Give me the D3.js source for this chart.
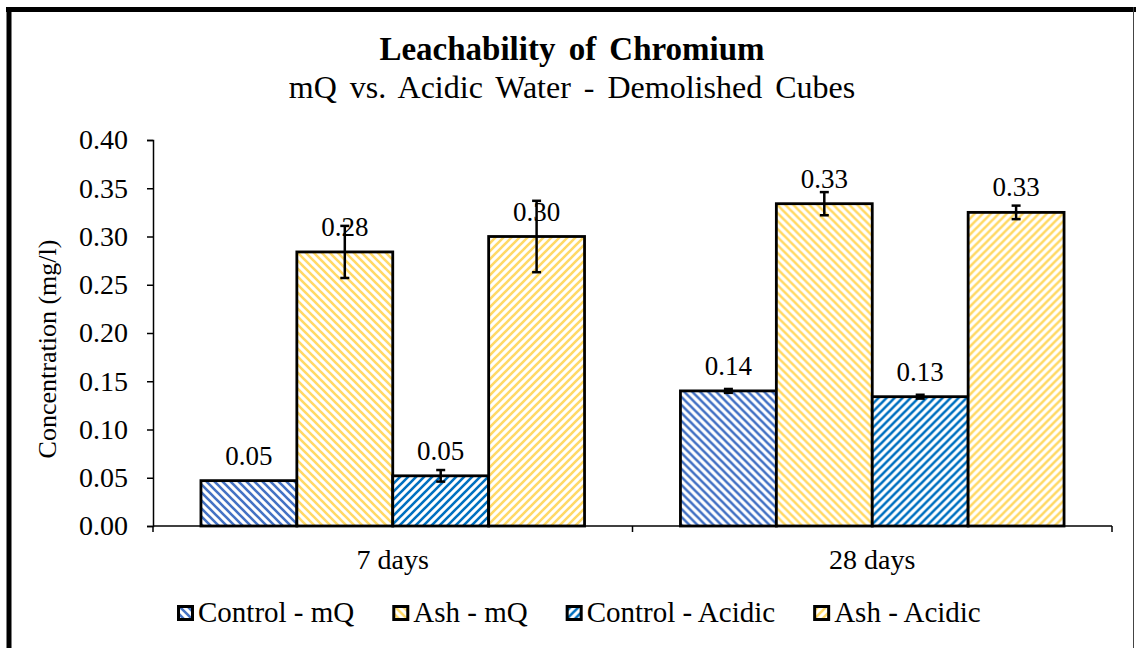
<!DOCTYPE html>
<html>
<head>
<meta charset="utf-8">
<script src="https://cdn.jsdelivr.net/npm/d3@7"></script>
<style>
  body { margin: 0; background: #fff; }
  text { font-family: "Liberation Serif", "Times New Roman", serif; fill: #000; }
</style>
</head>
<body>
<script>
// data
var categories = ["7 days", "28 days"];
var seriesNames = ["Control - mQ", "Ash - mQ", "Control - Acidic", "Ash - Acidic"];
var controlMQ = [0.047, 0.140];
var ashMQ = [0.284, 0.334];
var controlAcidic = [0.052, 0.134];
var ashAcidic = [0.300, 0.325];
var errControlMQ = [0.000, 0.002];
var errAshMQ = [0.027, 0.012];
var errControlAcidic = [0.006, 0.002];
var errAshAcidic = [0.037, 0.007];
var yTicks = [0, 0.05, 0.10, 0.15, 0.20, 0.25, 0.30, 0.35, 0.40];

var values = [controlMQ, ashMQ, controlAcidic, ashAcidic];
var errors = [errControlMQ, errAshMQ, errControlAcidic, errAshAcidic];
var colors = ["#4472C4", "#FFD966", "#0070C0", "#FFD966"];
var dirs = ["back", "back", "fwd", "fwd"];   // stripe direction

var W = 1136, H = 648;
var margin = {top: 140, right: 24, bottom: 122, left: 153};

var svg = d3.select("body").append("svg")
  .attr("width", W)
  .attr("height", H);

svg.append("rect").attr("width", W).attr("height", H).attr("fill", "#fff");

// striped patterns
var defs = svg.append("defs");
colors.forEach(function(c, i) {
  var p = defs.append("pattern")
    .attr("id", "pat" + i)
    .attr("patternUnits", "userSpaceOnUse")
    .attr("width", 8).attr("height", 8);
  p.append("rect").attr("width", 8).attr("height", 8).attr("fill", "#fff");
  p.append("path")
    .attr("d", dirs[i] == "back"
      ? "M-2,6 L2,10 M0,0 L8,8 M6,-2 L10,2"
      : "M-2,2 L2,-2 M0,8 L8,0 M6,10 L10,6")
    .attr("stroke", c)
    .attr("stroke-width", 2.6);
});

// frame of the chart area (heavy top/left, thin right)
svg.append("line").attr("x1", 6).attr("x2", W).attr("y1", 9.5).attr("y2", 9.5)
  .attr("stroke", "#000").attr("stroke-width", 5);
svg.append("line").attr("x1", 9).attr("x2", 9).attr("y1", 7).attr("y2", H)
  .attr("stroke", "#000").attr("stroke-width", 5);
svg.append("line").attr("x1", 1133.5).attr("x2", 1133.5).attr("y1", 7).attr("y2", H)
  .attr("stroke", "#444").attr("stroke-width", 1);

var width = W - margin.left - margin.right,
    height = H - margin.top - margin.bottom;

var chart = svg.append("g")
  .attr("transform", "translate(" + margin.left + "," + margin.top + ")");

var x0 = d3.scaleBand().domain(categories).range([0, width]);
var x1 = d3.scaleBand().domain(seriesNames)
  .range([0, x0.bandwidth()]).paddingOuter(0.5);
var y = d3.scaleLinear().domain([0, 0.4]).range([height, 0]);

// y axis
var yAxis = chart.append("g")
  .call(d3.axisLeft(y).tickValues(yTicks).tickSize(6).tickPadding(19)
    .tickFormat(d3.format(".2f")));
yAxis.select(".domain").attr("stroke-width", 1.5);
yAxis.selectAll(".tick line").attr("stroke-width", 1.5);
yAxis.selectAll("text").style("font-size", "28px")
  .style("font-family", "Liberation Serif");

// bars
var groups = chart.selectAll(".grp")
  .data(categories)
  .enter().append("g")
  .attr("transform", function(d) { return "translate(" + x0(d) + ",0)"; });

seriesNames.forEach(function(s, si) {
  groups.append("rect")
    .attr("x", x1(s))
    .attr("width", x1.bandwidth())
    .attr("y", function(d, ci) { return y(values[si][ci]); })
    .attr("height", function(d, ci) { return height - y(values[si][ci]); })
    .attr("fill", "url(#pat" + si + ")")
    .attr("stroke", "#000")
    .attr("stroke-width", 2.8);
});

// x axis
var xAxisG = chart.append("g").attr("transform", "translate(0," + height + ")");
xAxisG.append("line").attr("x1", 0).attr("x2", width)
  .attr("stroke", "#000").attr("stroke-width", 1.5);
[0, x0.step(), width].forEach(function(t) {
  xAxisG.append("line").attr("x1", t).attr("x2", t).attr("y1", 0).attr("y2", 6)
    .attr("stroke", "#000").attr("stroke-width", 1.5);
});
xAxisG.selectAll(".cat")
  .data(categories)
  .enter().append("text")
  .attr("x", function(d) { return x0(d) + x0.bandwidth() / 2; })
  .attr("y", 43)
  .attr("text-anchor", "middle")
  .style("font-size", "28px")
  .text(function(d) { return d; });

// error bars
seriesNames.forEach(function(s, si) {
  groups.each(function(d, ci) {
    var g = d3.select(this);
    var cx = x1(s) + x1.bandwidth() / 2;
    var v = values[si][ci], e = errors[si][ci];
    if (e <= 0) return;
    g.append("line").attr("x1", cx).attr("x2", cx)
      .attr("y1", y(v + e)).attr("y2", y(v - e))
      .attr("stroke", "#000").attr("stroke-width", 2.5);
    [v + e, v - e].forEach(function(t) {
      g.append("line").attr("x1", cx - 4.5).attr("x2", cx + 4.5)
        .attr("y1", y(t)).attr("y2", y(t))
        .attr("stroke", "#000").attr("stroke-width", 2.5);
    });
  });
});

// data labels
seriesNames.forEach(function(s, si) {
  groups.append("text")
    .attr("x", x1(s) + x1.bandwidth() / 2)
    .attr("y", function(d, ci) { return y(values[si][ci]) - 16; })
    .attr("text-anchor", "middle")
    .style("font-size", "27px")
    .text(function(d, ci) { return values[si][ci].toFixed(2); });
});

// y axis label
svg.append("text")
  .attr("transform", "translate(56,349) rotate(-90)")
  .attr("text-anchor", "middle")
  .style("font-size", "26px")
  .text("Concentration (mg/l)");

// titles
svg.append("text")
  .attr("x", 572).attr("y", 60)
  .attr("text-anchor", "middle")
  .style("font-size", "33px").style("font-weight", "bold")
  .style("word-spacing", "5px")
  .text("Leachability of Chromium");
svg.append("text")
  .attr("x", 572).attr("y", 98)
  .attr("text-anchor", "middle")
  .style("font-size", "32px")
  .style("word-spacing", "5px")
  .text("mQ vs. Acidic Water - Demolished Cubes");

// legend
var legend = svg.append("g").attr("transform", "translate(177,620)");
var lx = 0;
seriesNames.forEach(function(s, si) {
  var item = legend.append("g").attr("transform", "translate(" + lx + ",0)");
  item.append("rect").attr("x", 1.5).attr("y", -13.5).attr("width", 14).attr("height", 13)
    .attr("fill", "url(#pat" + si + ")").attr("stroke", "#000").attr("stroke-width", 3);
  var t = item.append("text").attr("x", 21).attr("y", 2)
    .style("font-size", "29px").text(s);
  lx += 21 + t.node().getComputedTextLength() + 38;
});
</script>
</body>
</html>
